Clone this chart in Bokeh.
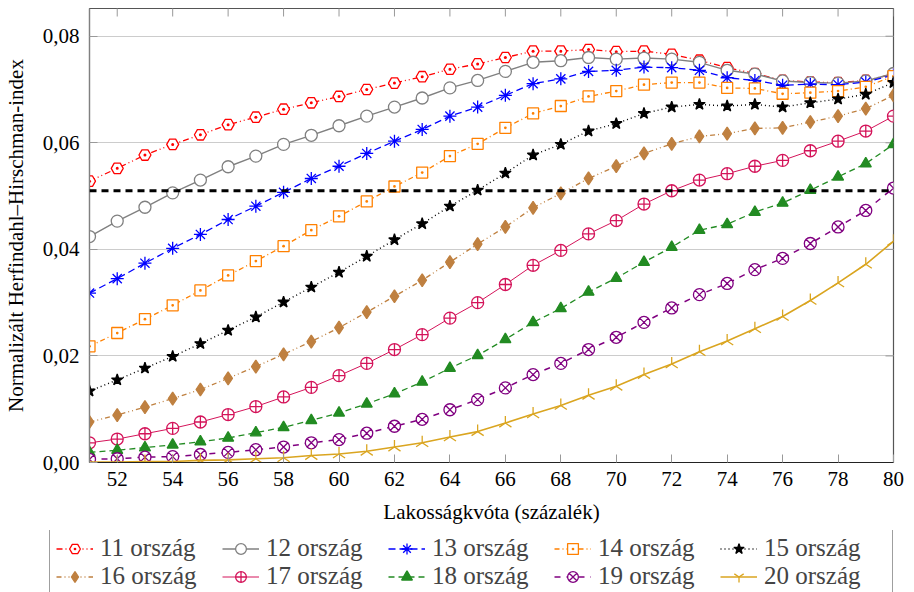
from bokeh.plotting import figure
from bokeh.layouts import column, row
from bokeh.models import Range1d, FixedTicker, Legend, LegendItem, Span
from bokeh.embed import file_html
from bokeh.resources import INLINE
import math

# ---------------- data ----------------
quota = [51, 52, 53, 54, 55, 56, 57, 58, 59, 60, 61, 62, 63, 64, 65,
         66, 67, 68, 69, 70, 71, 72, 73, 74, 75, 76, 77, 78, 79, 80]

orszag_11 = [0.0528, 0.0552, 0.0577, 0.0597, 0.0615, 0.0634, 0.0648, 0.0663, 0.0675, 0.0687,
             0.0700, 0.0712, 0.0724, 0.0738, 0.0748, 0.0760, 0.0772, 0.0772, 0.0775, 0.0771,
             0.0772, 0.0766, 0.0755, 0.0741, 0.0730, 0.0717, 0.0714, 0.0713, 0.0717, 0.0729]
orszag_12 = [0.0424, 0.0453, 0.0479, 0.0506, 0.0530, 0.0555, 0.0575, 0.0597, 0.0614, 0.0632,
             0.0650, 0.0667, 0.0684, 0.0703, 0.0717, 0.0734, 0.0751, 0.0754, 0.0760, 0.0757,
             0.0759, 0.0757, 0.0751, 0.0736, 0.0729, 0.0716, 0.0713, 0.0712, 0.0716, 0.0730]
orszag_13 = [0.0318, 0.0345, 0.0374, 0.0402, 0.0428, 0.0456, 0.0481, 0.0507, 0.0533, 0.0556,
             0.0580, 0.0603, 0.0625, 0.0650, 0.0667, 0.0689, 0.0711, 0.0720, 0.0734, 0.0736,
             0.0742, 0.0741, 0.0736, 0.0722, 0.0717, 0.0708, 0.0710, 0.0709, 0.0714, 0.0727]
orszag_14 = [0.0218, 0.0243, 0.0269, 0.0295, 0.0323, 0.0351, 0.0378, 0.0406, 0.0436, 0.0462,
             0.0490, 0.0518, 0.0544, 0.0575, 0.0598, 0.0628, 0.0655, 0.0669, 0.0687, 0.0697,
             0.0709, 0.0713, 0.0713, 0.0703, 0.0702, 0.0692, 0.0694, 0.0697, 0.0705, 0.0725]
orszag_15 = [0.0134, 0.0155, 0.0177, 0.0199, 0.0223, 0.0248, 0.0273, 0.0301, 0.0329, 0.0357,
             0.0387, 0.0418, 0.0448, 0.0481, 0.0511, 0.0543, 0.0577, 0.0597, 0.0622, 0.0636,
             0.0655, 0.0667, 0.0672, 0.0669, 0.0672, 0.0667, 0.0675, 0.0682, 0.0691, 0.0713]
orszag_16 = [0.0076, 0.0089, 0.0104, 0.0120, 0.0137, 0.0158, 0.0180, 0.0203, 0.0227, 0.0253,
             0.0282, 0.0312, 0.0342, 0.0376, 0.0410, 0.0442, 0.0478, 0.0505, 0.0533, 0.0556,
             0.0580, 0.0598, 0.0612, 0.0617, 0.0627, 0.0628, 0.0639, 0.0650, 0.0664, 0.0689]
orszag_17 = [0.0037, 0.0044, 0.0054, 0.0064, 0.0076, 0.0090, 0.0105, 0.0123, 0.0141, 0.0163,
             0.0186, 0.0212, 0.0240, 0.0271, 0.0300, 0.0334, 0.0370, 0.0398, 0.0429, 0.0454,
             0.0485, 0.0510, 0.0530, 0.0542, 0.0556, 0.0567, 0.0585, 0.0603, 0.0622, 0.0650]
orszag_18 = [0.0019, 0.0023, 0.0028, 0.0033, 0.0039, 0.0046, 0.0056, 0.0066, 0.0079, 0.0093,
             0.0110, 0.0129, 0.0151, 0.0177, 0.0201, 0.0231, 0.0263, 0.0289, 0.0320, 0.0346,
             0.0376, 0.0404, 0.0436, 0.0447, 0.0470, 0.0487, 0.0511, 0.0536, 0.0561, 0.0597]
orszag_19 = [0.0006, 0.0007, 0.0010, 0.0011, 0.0015, 0.0019, 0.0024, 0.0029, 0.0037, 0.0043,
             0.0055, 0.0068, 0.0081, 0.0099, 0.0118, 0.0140, 0.0165, 0.0186, 0.0212, 0.0235,
             0.0263, 0.0290, 0.0315, 0.0336, 0.0362, 0.0383, 0.0411, 0.0442, 0.0473, 0.0515]
orszag_20 = [0.0001, 0.0001, 0.0002, 0.0002, 0.0004, 0.0005, 0.0007, 0.0009, 0.0013, 0.0016,
             0.0021, 0.0029, 0.0037, 0.0048, 0.0058, 0.0074, 0.0091, 0.0107, 0.0126, 0.0143,
             0.0165, 0.0185, 0.0208, 0.0228, 0.0251, 0.0274, 0.0304, 0.0337, 0.0372, 0.0415]

series_values = [orszag_11, orszag_12, orszag_13, orszag_14, orszag_15,
                 orszag_16, orszag_17, orszag_18, orszag_19, orszag_20]
series_labels = ["11 ország", "12 ország", "13 ország", "14 ország", "15 ország",
                 "16 ország", "17 ország", "18 ország", "19 ország", "20 ország"]

threshold = 0.051

x_min, x_max = 51, 80
y_min, y_max = 0.0, 0.0852
x_ticks = [52, 54, 56, 58, 60, 62, 64, 66, 68, 70, 72, 74, 76, 78, 80]
y_ticks = [0.0, 0.02, 0.04, 0.06, 0.08]
y_tick_labels = ["0,00", "0,02", "0,04", "0,06", "0,08"]

x_title = "Lakosságkvóta (százalék)"
y_title = "Normalizált Herfindahl–Hirschman-index"

# ---------------- styles ----------------
styles = [
    dict(color="#ff0000", dash="6 3 1 3 1 3", width=1.3, marker="hex_dot", size=12, fill="white", angle=0.0),
    dict(color="#808080", dash="solid", width=1.4, marker="circle", size=12, fill="white", angle=0.0),
    dict(color="#0000ff", dash="7 4", width=1.3, marker="asterisk", size=13, fill="#0000ff", angle=0.0),
    dict(color="#ff8000", dash="5 3 1 3", width=1.3, marker="square_dot", size=11, fill="white", angle=0.0),
    dict(color="#000000", dash="1 3", width=1.4, marker="star", size=12, fill="#000000", angle=0.0),
    dict(color="#bf8040", dash="5 3 1 3 1 3", width=1.3, marker="diamond", size=13, fill="#bf8040", angle=0.0),
    dict(color="#d4145a", dash="solid", width=1.0, marker="circle_cross", size=12, fill="white", angle=0.0),
    dict(color="#228b22", dash="6 4", width=1.3, marker="triangle", size=11, fill="#228b22", angle=0.0),
    dict(color="#800080", dash="6 6", width=1.5, marker="circle_x", size=12, fill="white", angle=0.0),
    dict(color="#daa520", dash="solid", width=1.6, marker="y", size=14, fill="#daa520", angle=math.pi),
]

FONT = "Liberation Serif"
TICK_GRAY = "#999999"

p = figure(width=914, height=530, output_backend="svg", toolbar_location=None,
           x_range=Range1d(x_min, x_max), y_range=Range1d(y_min, y_max),
           min_border_left=89, min_border_right=21, min_border_top=8, min_border_bottom=68,
           x_axis_label=x_title, y_axis_label=y_title)
p.background_fill_color = "white"
p.border_fill_color = "white"
p.outline_line_color = "#555555"
p.outline_line_width = 1.2

for ax in (p.xaxis[0], p.yaxis[0]):
    ax.major_tick_in = 8
    ax.major_tick_out = 0
    ax.minor_tick_in = 0
    ax.minor_tick_out = 0
    ax.major_tick_line_color = TICK_GRAY
    ax.axis_line_width = 1.2
    ax.major_label_text_font = FONT
    ax.major_label_text_font_size = "21px"
    ax.major_label_text_color = "black"
    ax.axis_label_text_font = FONT
    ax.axis_label_text_font_size = "21px"
    ax.axis_label_text_font_style = "normal"
    ax.axis_label_text_color = "black"

p.xaxis[0].ticker = FixedTicker(ticks=x_ticks)
p.xaxis[0].major_label_standoff = 9
p.xaxis[0].axis_label_standoff = 11
p.xaxis[0].axis_line_color = "#222222"

p.yaxis[0].ticker = FixedTicker(ticks=y_ticks)
p.yaxis[0].major_label_overrides = dict(zip(y_ticks, y_tick_labels))
p.yaxis[0].major_label_standoff = 10
p.yaxis[0].axis_label_standoff = 12
p.yaxis[0].axis_line_color = "#808080"

p.xgrid.visible = False
p.ygrid.ticker = FixedTicker(ticks=y_ticks)
p.ygrid.grid_line_color = "#cccccc"
p.ygrid.grid_line_width = 1

# mirrored inner ticks on top and right edges (half of each dash is clipped by the frame)
p.scatter(x_ticks, [y_max] * len(x_ticks), marker="dash", angle=math.pi / 2, size=16,
          line_color=TICK_GRAY, line_width=1)
p.scatter([x_max] * len(y_ticks), y_ticks, marker="dash", size=16,
          line_color=TICK_GRAY, line_width=1)

# threshold
p.add_layout(Span(location=threshold, dimension="width", line_color="black",
                  line_width=3, line_dash="7 5"))

for vals, st in zip(series_values, styles):
    p.line(quota, vals, line_color=st["color"], line_width=st["width"], line_dash=st["dash"])
    p.scatter(quota, vals, marker=st["marker"], size=st["size"], line_color=st["color"],
              fill_color=st["fill"], line_width=1.3, angle=st["angle"])

# ---------------- legend panel (separate strip; series drawn out of its view) ----------------
q = figure(width=914, height=62, output_backend="svg", toolbar_location=None,
           x_axis_type=None, y_axis_type=None,
           x_range=Range1d(0, 1), y_range=Range1d(0, 1),
           min_border_left=0, min_border_right=0, min_border_top=0, min_border_bottom=0)
q.outline_line_color = None
q.background_fill_color = "white"
q.border_fill_color = "white"
q.xgrid.visible = False
q.ygrid.visible = False

items = []
for vals, lab, st in zip(series_values, series_labels, styles):
    lr = q.line(quota, vals, line_color=st["color"], line_width=st["width"], line_dash=st["dash"])
    sr = q.scatter(quota, vals, marker=st["marker"], size=st["size"] - 3, line_color=st["color"],
                   fill_color=st["fill"], line_width=1.3, angle=st["angle"])
    items.append(LegendItem(label=lab, renderers=[lr, sr]))

legend = Legend(items=items, orientation="horizontal", nrows=2, location=(49, -5),
                label_text_font=FONT, label_text_font_size="25px",
                glyph_width=37, glyph_height=27, label_height=27, label_width=122,
                label_standoff=7, padding=6, spacing=0, margin=0,
                border_line_color="#404040", border_line_width=1.2,
                background_fill_color="white", background_fill_alpha=1.0)
q.add_layout(legend, "center")

layout = column(p, row(q), spacing=0)
open("out.html", "w").write(file_html(layout, INLINE))
